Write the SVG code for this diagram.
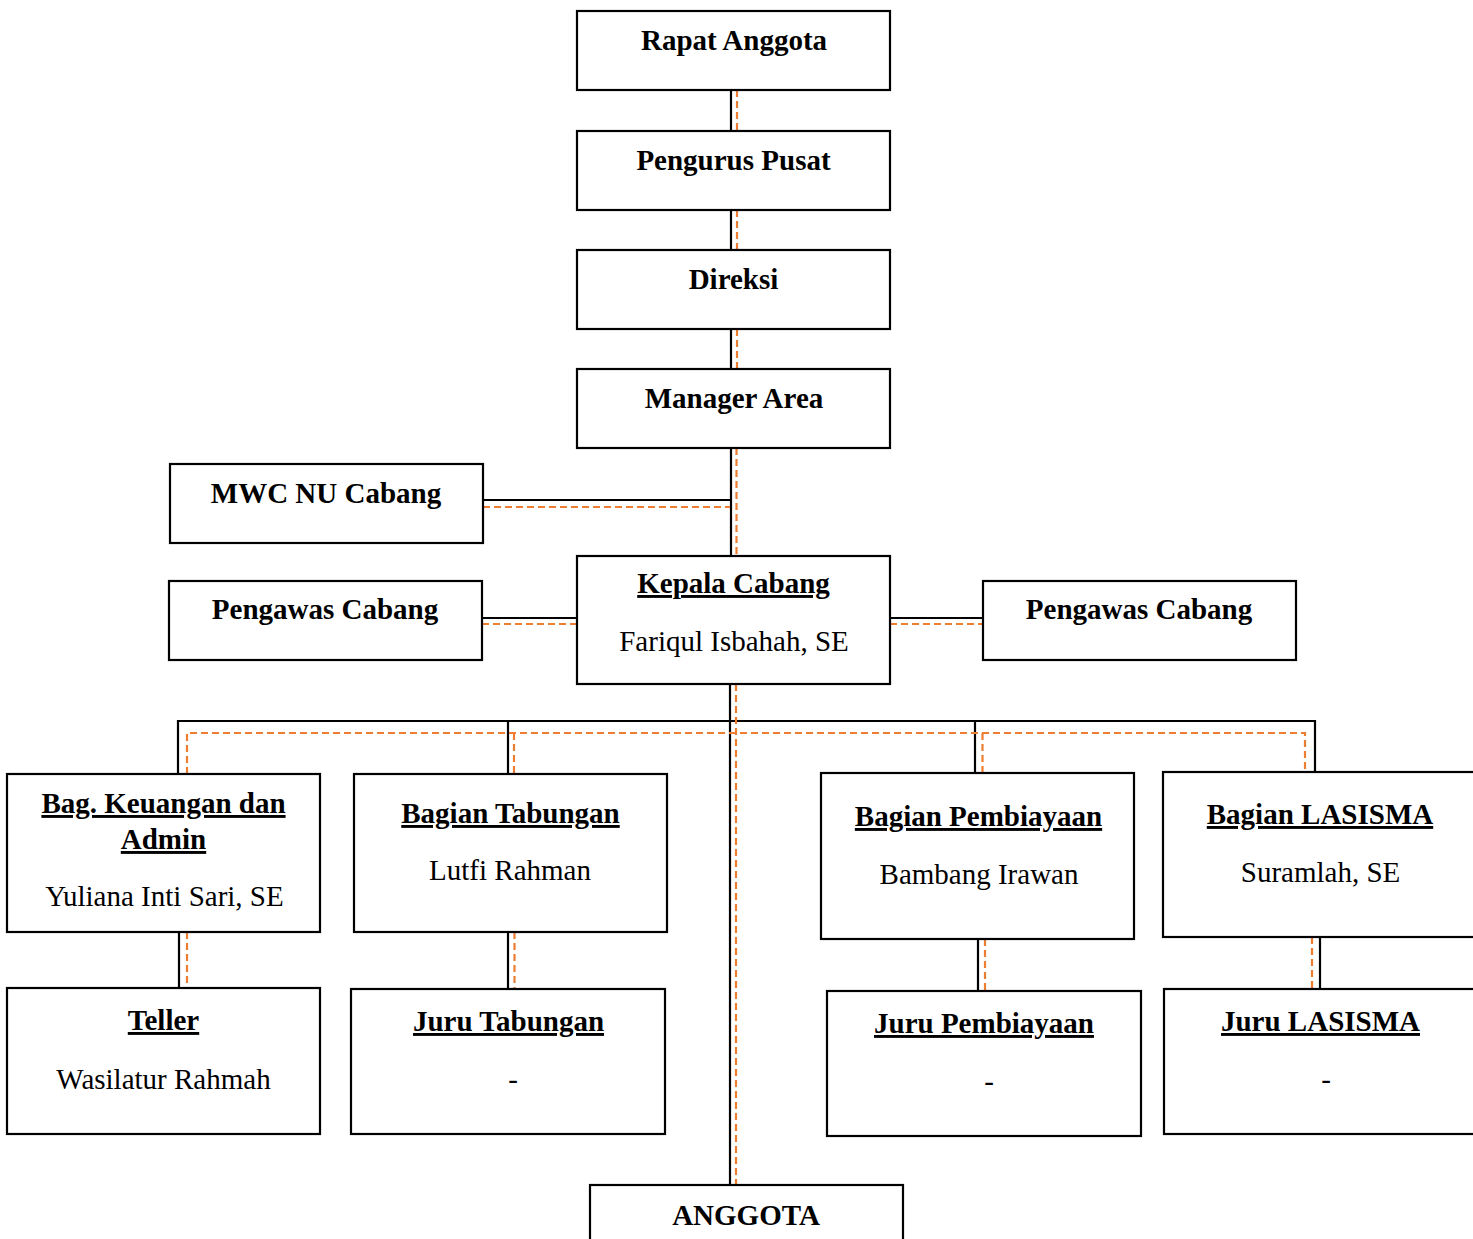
<svg xmlns="http://www.w3.org/2000/svg" width="1473" height="1239" viewBox="0 0 1473 1239">
<style>
.box{fill:#fff;stroke:#000;stroke-width:2.2}
.t{font-family:"Liberation Serif","Times New Roman",serif;font-size:29px;fill:#000;text-anchor:middle}
.b{font-weight:bold}
.u{text-decoration:underline}
.blk{stroke:#000;stroke-width:2.2;fill:none}
.org{stroke:#ED7D31;stroke-width:2.2;fill:none;stroke-dasharray:7 4}
</style>
<rect width="1473" height="1239" fill="#fff"/>
<g id="connectors">
  <path class="blk" d="M731 90V131M731 210V250M731 329V369M731 448V556M483 500H731M482 618H577M890 618H983M730 684V1185M178 774V721H1315V772M508 721V774M975 721V773M179 932V988M508 932V989M978 939V991M1320 937V989"/>
  <path class="org" d="M737 90V131M737 210V250M737 329V369M736.5 448V556M483 507H730M482 624H577M890 624H983M736 684V1185M187 774V733H1305V772M514 733V774M982.5 733V773M187 932V988M514.5 932V989M985 939V991M1312 937V989"/>
</g>
<g id="rapat-anggota"><rect class="box" x="577" y="11" width="313" height="79"/><text class="t b" x="734" y="50">Rapat Anggota</text></g>
<g id="pengurus-pusat"><rect class="box" x="577" y="131" width="313" height="79"/><text class="t b" x="733.5" y="170">Pengurus Pusat</text></g>
<g id="direksi"><rect class="box" x="577" y="250" width="313" height="79"/><text class="t b" x="733.5" y="289">Direksi</text></g>
<g id="manager-area"><rect class="box" x="577" y="369" width="313" height="79"/><text class="t b" x="734" y="408">Manager Area</text></g>
<g id="mwc-nu-cabang"><rect class="box" x="170" y="464" width="313" height="79"/><text class="t b" x="326" y="503">MWC NU Cabang</text></g>
<g id="kepala-cabang"><rect class="box" x="577" y="556" width="313" height="128"/><text class="t b u" x="733.5" y="593">Kepala Cabang</text><text class="t" x="734" y="651">Fariqul Isbahah, SE</text></g>
<g id="pengawas-cabang-kiri"><rect class="box" x="169" y="581" width="313" height="79"/><text class="t b" x="325" y="619">Pengawas Cabang</text></g>
<g id="pengawas-cabang-kanan"><rect class="box" x="983" y="581" width="313" height="79"/><text class="t b" x="1139" y="619">Pengawas Cabang</text></g>
<g id="bag-keuangan"><rect class="box" x="7" y="774" width="313" height="158"/><text class="t b u" x="163.5" y="813">Bag. Keuangan dan</text><text class="t b u" x="163.5" y="849">Admin</text><text class="t" x="164.5" y="906">Yuliana Inti Sari, SE</text></g>
<g id="bagian-tabungan"><rect class="box" x="354" y="774" width="313" height="158"/><text class="t b u" x="510.5" y="823">Bagian Tabungan</text><text class="t" x="510" y="880">Lutfi Rahman</text></g>
<g id="bagian-pembiayaan"><rect class="box" x="821" y="773" width="313" height="166"/><text class="t b u" x="978.5" y="826">Bagian Pembiayaan</text><text class="t" x="979" y="884">Bambang Irawan</text></g>
<g id="bagian-lasisma"><rect class="box" x="1163" y="772" width="320" height="165"/><text class="t b u" x="1320" y="824">Bagian LASISMA</text><text class="t" x="1320.5" y="882">Suramlah, SE</text></g>
<g id="teller"><rect class="box" x="7" y="988" width="313" height="146"/><text class="t b u" x="163.5" y="1030">Teller</text><text class="t" x="163.5" y="1089">Wasilatur Rahmah</text></g>
<g id="juru-tabungan"><rect class="box" x="351" y="989" width="314" height="145"/><text class="t b u" x="508.5" y="1031">Juru Tabungan</text><text class="t" x="513" y="1089">-</text></g>
<g id="juru-pembiayaan"><rect class="box" x="827" y="991" width="314" height="145"/><text class="t b u" x="984" y="1033">Juru Pembiayaan</text><text class="t" x="989" y="1091">-</text></g>
<g id="juru-lasisma"><rect class="box" x="1164" y="989" width="319" height="145"/><text class="t b u" x="1320.5" y="1031">Juru LASISMA</text><text class="t" x="1326" y="1089">-</text></g>
<g id="anggota"><rect class="box" x="590" y="1185" width="313" height="70"/><text class="t b" x="746" y="1225">ANGGOTA</text></g>
</svg>
